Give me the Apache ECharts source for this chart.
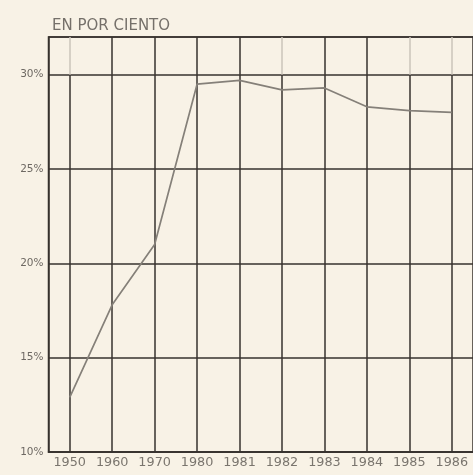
<!DOCTYPE html>
<html>
<head>
<meta charset="utf-8">
<script src="https://cdn.jsdelivr.net/npm/echarts@6/dist/echarts.min.js"></script>
<style>
html,body{margin:0;padding:0;background:#f8f2e6;}
#c{width:473px;height:475px;}
</style>
</head>
<body>
<div id="c"></div>
<script>
const title = 'EN POR CIENTO';
const years = ['1950','1960','1970','1980','1981','1982','1983','1984','1985','1986'];
const share = [12.9, 17.8, 21.0, 29.5, 29.7, 29.2, 29.3, 28.3, 28.1, 28.0];
const yTicks = [10, 15, 20, 25, 30];
const yMin = 10, yMax = 32, yStep = 5;
// columns whose grid line is faint above the 30% line in the scan
const faintTop = ['1950','1982','1985','1986'];

const gridColor = '#37322e';
const vLines = [];
years.forEach(y => {
  vLines.push([{coord:[y, yMin]}, {coord:[y, yTicks[yTicks.length-1]]}]);
  vLines.push([{coord:[y, yTicks[yTicks.length-1]], lineStyle:{color: faintTop.includes(y) ? '#cbc5ba' : gridColor}},
               {coord:[y, yMax]}]);
});

const chart = echarts.init(document.getElementById('c'), null, {renderer:'canvas'});
chart.setOption({
  backgroundColor: '#f8f2e6',
  animation: false,
  title: {
    text: title, left: 47, top: 14,
    textStyle: {fontFamily:'DejaVu Sans', fontSize: 15, fontWeight:'normal', color:'#75706a'}
  },
  grid: {left: 48.5, top: 37, width: 429, height: 415, show: true, borderColor: gridColor, borderWidth: 1.5, backgroundColor:'transparent'},
  xAxis: {
    type: 'category', data: years, boundaryGap: true,
    axisLine: {show:true, lineStyle:{color:gridColor, width:1.5}},
    axisTick: {show:false},
    splitLine: {show:false},
    axisLabel: {fontFamily:'DejaVu Sans', fontSize: 12.8, color:'#7a756e', margin: 4,
      interval: 0, hideOverlap: false}
  },
  yAxis: {
    type: 'value', min: yMin, max: yMax, interval: yStep,
    axisLine: {show:true, lineStyle:{color:gridColor, width:1.5}},
    axisTick: {show:false},
    splitLine: {show:true, lineStyle:{color:gridColor, width:1.5}},
    axisLabel: {fontFamily:'DejaVu Sans', fontSize: 10.5, color:'#6e6963', margin: 5,
      showMaxLabel: false,
      formatter: v => yTicks.includes(v) ? v + '%' : ''}
  },
  series: [{
    type: 'line', data: share, symbol: 'none', z: 5,
    lineStyle: {color:'#858079', width: 1.7},
    markLine: {
      silent: true, symbol: 'none', animation: false,
      label: {show:false},
      lineStyle: {color: gridColor, width: 1.5, type:'solid'},
      emphasis: {disabled: true},
      data: vLines
    }
  }]
});
</script>
</body>
</html>
